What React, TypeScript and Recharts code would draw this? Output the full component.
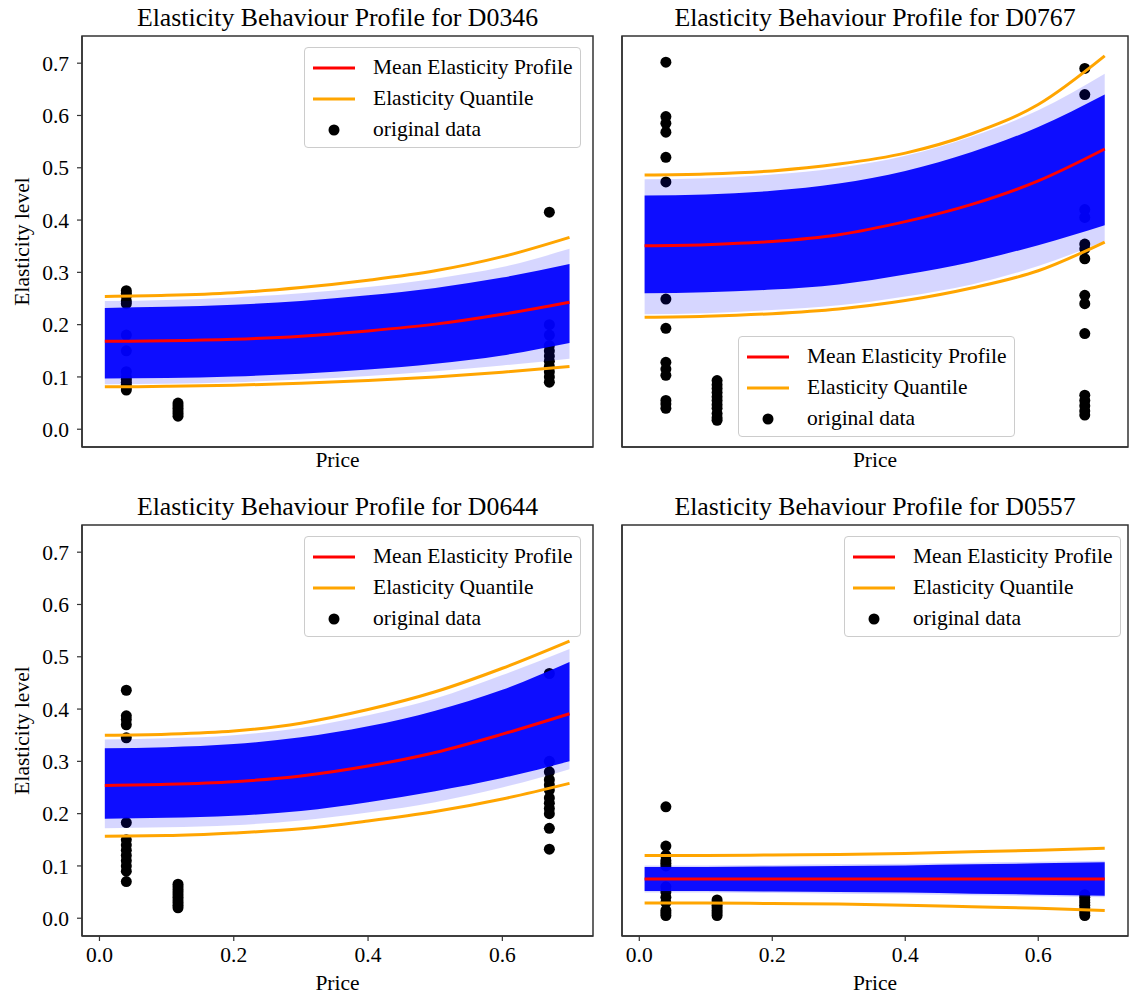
import React from 'react';
import { ComposedChart, Line, Area, Scatter, XAxis, YAxis, Legend, ReferenceArea } from 'recharts';

const SERIF = "'Liberation Serif', 'Times New Roman', serif";

// price grid the fitted profiles are drawn on
const priceGrid = [0.008, 0.1, 0.2, 0.3, 0.4, 0.5, 0.6, 0.7];
// the three observed price levels
const observedPrices = [0.04, 0.117, 0.67];
const xTicks = [0, 0.2, 0.4, 0.6];
const yTicks = [0, 0.1, 0.2, 0.3, 0.4, 0.5, 0.6, 0.7];

// ---- D0346
const meanD0346 = [0.168, 0.169, 0.172, 0.178, 0.188, 0.201, 0.22, 0.243];
const qHiD0346 = [0.254, 0.256, 0.261, 0.271, 0.285, 0.303, 0.33, 0.367];
const qLoD0346 = [0.081, 0.082, 0.084, 0.088, 0.093, 0.1, 0.109, 0.12];
const bandHiD0346 = [0.232, 0.234, 0.238, 0.245, 0.256, 0.27, 0.29, 0.316];
const bandLoD0346 = [0.097, 0.098, 0.101, 0.106, 0.114, 0.125, 0.141, 0.165];
const fringeHiD0346 = [0.245, 0.247, 0.252, 0.26, 0.272, 0.288, 0.31, 0.345];
const fringeLoD0346 = [0.086, 0.087, 0.09, 0.095, 0.102, 0.111, 0.122, 0.135];
const obsD0346 = [
  [0.265, 0.26, 0.255, 0.245, 0.24, 0.18, 0.15, 0.11, 0.1, 0.095, 0.09, 0.085, 0.08, 0.075],
  [0.05, 0.045, 0.04, 0.035, 0.03, 0.025],
  [0.415, 0.2, 0.18, 0.16, 0.15, 0.14, 0.13, 0.12, 0.11, 0.1, 0.09],
];

// ---- D0767
const meanD0767 = [0.351, 0.353, 0.359, 0.372, 0.397, 0.43, 0.475, 0.536];
const qHiD0767 = [0.486, 0.488, 0.494, 0.507, 0.528, 0.565, 0.621, 0.714];
const qLoD0767 = [0.214, 0.216, 0.221, 0.23, 0.246, 0.27, 0.303, 0.358];
const bandHiD0767 = [0.447, 0.449, 0.456, 0.47, 0.494, 0.53, 0.578, 0.64];
const bandLoD0767 = [0.26, 0.262, 0.267, 0.277, 0.296, 0.32, 0.352, 0.39];
const fringeHiD0767 = [0.478, 0.48, 0.487, 0.5, 0.523, 0.56, 0.61, 0.68];
const fringeLoD0767 = [0.22, 0.222, 0.228, 0.237, 0.254, 0.277, 0.312, 0.36];
const obsD0767 = [
  [0.702, 0.598, 0.585, 0.568, 0.52, 0.473, 0.249, 0.193, 0.128, 0.115, 0.103, 0.055, 0.048, 0.04],
  [0.093, 0.085, 0.078, 0.07, 0.062, 0.055, 0.047, 0.04, 0.03, 0.022, 0.017],
  [0.69, 0.64, 0.42, 0.405, 0.354, 0.345, 0.326, 0.256, 0.24, 0.183, 0.065, 0.055, 0.045, 0.035, 0.027],
];

// ---- D0644
const meanD0644 = [0.254, 0.256, 0.261, 0.272, 0.291, 0.317, 0.352, 0.391];
const qHiD0644 = [0.35, 0.352, 0.358, 0.373, 0.399, 0.433, 0.478, 0.53];
const qLoD0644 = [0.157, 0.158, 0.163, 0.171, 0.186, 0.204, 0.228, 0.258];
const bandHiD0644 = [0.325, 0.327, 0.333, 0.346, 0.367, 0.397, 0.437, 0.49];
const bandLoD0644 = [0.19, 0.192, 0.196, 0.205, 0.222, 0.243, 0.268, 0.3];
const fringeHiD0644 = [0.342, 0.344, 0.35, 0.364, 0.388, 0.42, 0.465, 0.515];
const fringeLoD0644 = [0.172, 0.174, 0.178, 0.187, 0.202, 0.222, 0.25, 0.285];
const obsD0644 = [
  [0.436, 0.387, 0.38, 0.37, 0.345, 0.183, 0.15, 0.14, 0.13, 0.12, 0.11, 0.1, 0.09, 0.07],
  [0.065, 0.06, 0.055, 0.05, 0.045, 0.04, 0.035, 0.03, 0.025, 0.02],
  [0.468, 0.3, 0.28, 0.265, 0.255, 0.245, 0.23, 0.22, 0.21, 0.2, 0.172, 0.132],
];

// ---- D0557
const meanD0557 = [0.075, 0.075, 0.075, 0.075, 0.075, 0.075, 0.075, 0.075];
const qHiD0557 = [0.12, 0.12, 0.121, 0.122, 0.124, 0.127, 0.13, 0.134];
const qLoD0557 = [0.029, 0.029, 0.028, 0.027, 0.025, 0.022, 0.019, 0.015];
const bandHiD0557 = [0.098, 0.098, 0.099, 0.1, 0.101, 0.103, 0.105, 0.107];
const bandLoD0557 = [0.052, 0.052, 0.051, 0.05, 0.049, 0.047, 0.045, 0.043];
const fringeHiD0557 = [0.101, 0.101, 0.102, 0.103, 0.104, 0.106, 0.108, 0.11];
const fringeLoD0557 = [0.049, 0.049, 0.048, 0.047, 0.046, 0.044, 0.042, 0.04];
const obsD0557 = [
  [0.213, 0.138, 0.12, 0.11, 0.105, 0.1, 0.06, 0.05, 0.04, 0.03, 0.015, 0.01, 0.005],
  [0.035, 0.03, 0.025, 0.02, 0.015, 0.01, 0.005],
  [0.045, 0.04, 0.035, 0.03, 0.025, 0.02, 0.015, 0.01, 0.005],
];

const legendItems = [
  { label: 'Mean Elasticity Profile', color: '#ff0000', kind: 'line' },
  { label: 'Elasticity Quantile', color: '#ffa500', kind: 'line' },
  { label: 'original data', color: '#000000', kind: 'dot' },
];

const X_DOMAIN = [-0.026, 0.735];
const Y_DOMAIN = [-0.034, 0.752];
const AXIS = '#333333';

const buildRows = (mean, qHi, qLo, bandHi, bandLo, fringeHi, fringeLo) =>
  priceGrid.map((price, i) => ({
    price,
    mean: mean[i],
    qHi: qHi[i],
    qLo: qLo[i],
    band: [bandLo[i], bandHi[i]],
    fringe: [fringeLo[i], fringeHi[i]],
  }));

const buildPoints = (obs) =>
  obs.flatMap((vals, k) => vals.map((value) => ({ price: observedPrices[k], value })));

const LegendBox = () => (
  <div
    style={{
      width: 277,
      height: 101,
      boxSizing: 'border-box',
      border: '1px solid #cccccc',
      borderRadius: 4,
      background: 'rgba(255,255,255,0.8)',
      padding: '4px 0 0 8px',
      fontFamily: SERIF,
      fontSize: 21.5,
      color: '#000',
    }}
  >
    {legendItems.map((it) => (
      <div key={it.label} style={{ height: 31, display: 'flex', alignItems: 'center' }}>
        <svg width={42} height={20} style={{ flex: 'none' }}>
          {it.kind === 'line' ? (
            <line x1={0} y1={10} x2={42} y2={10} stroke={it.color} strokeWidth={3} />
          ) : (
            <circle cx={21} cy={10} r={5.5} fill={it.color} />
          )}
        </svg>
        <span style={{ marginLeft: 18, lineHeight: '21px', whiteSpace: 'nowrap' }}>{it.label}</span>
      </div>
    ))}
  </div>
);

const Dot = (p) => <circle cx={p.cx} cy={p.cy} r={5.5} fill="#000" />;

function Panel({ title, rows, points, left, top, width, height, showYLabels, showXLabels, legendAt }) {
  const xAxisHeight = height - 36 - 411;
  const margin = { top: 36, right: width - 82 - 506 - (width === 600 ? 5 : 0), bottom: 0, left: 0 };
  const axisText = { fill: '#000', fontSize: 21.5, fontFamily: SERIF };

  return (
    <div style={{ position: 'absolute', left, top, width, height }}>
      {/* base layer: axes, frame, title and the observed points */}
      <div style={{ position: 'absolute', left: 0, top: 0 }}>
        <ComposedChart width={width} height={height} margin={margin}>
          <XAxis
            type="number"
            dataKey="price"
            domain={X_DOMAIN}
            ticks={xTicks}
            allowDataOverflow
            height={xAxisHeight}
            tickSize={5}
            tickMargin={6}
            tick={showXLabels ? axisText : false}
            tickFormatter={(v) => v.toFixed(1)}
            axisLine={{ stroke: AXIS, strokeWidth: 1.5 }}
            tickLine={{ stroke: AXIS, strokeWidth: 1.2 }}
            label={(props) => {
              const vb = props.viewBox;
              return (
                <text x={vb.x + vb.width / 2} y={vb.y + (showXLabels ? 54 : 20)} textAnchor="middle" fontSize={21.5} fill="#000">
                  Price
                </text>
              );
            }}
          />
          <YAxis
            type="number"
            domain={Y_DOMAIN}
            ticks={yTicks}
            allowDataOverflow
            width={82}
            tickSize={5}
            tickMargin={8}
            tick={showYLabels ? axisText : false}
            tickFormatter={(v) => v.toFixed(1)}
            axisLine={{ stroke: AXIS, strokeWidth: 1.5 }}
            tickLine={{ stroke: AXIS, strokeWidth: 1.2 }}
            label={(props) => {
              if (!showYLabels) return null;
              const vb = props.viewBox;
              const cx = 22;
              const cy = vb.y + vb.height / 2;
              return (
                <text x={cx} y={cy} transform={`rotate(-90 ${cx} ${cy})`} textAnchor="middle" dominantBaseline="central" fontSize={21.5} fill="#000">
                  Elasticity level
                </text>
              );
            }}
          />
          <ReferenceArea
            x1={X_DOMAIN[0]}
            x2={X_DOMAIN[1]}
            y1={Y_DOMAIN[0]}
            y2={Y_DOMAIN[1]}
            fill="none"
            fillOpacity={0}
            stroke={AXIS}
            strokeWidth={1.5}
            ifOverflow="visible"
            label={(props) => {
              const vb = props.viewBox;
              return (
                <text x={vb.x + vb.width / 2} y={vb.y - 10} textAnchor="middle" fontSize={25.8} fill="#000">
                  {title}
                </text>
              );
            }}
          />
          <Scatter data={points} dataKey="value" shape={Dot} isAnimationActive={false} />
        </ComposedChart>
      </div>

      {/* top layer: the sampled profile band, mean and quantile curves, legend */}
      <div style={{ position: 'absolute', left: 0, top: 0 }}>
        <ComposedChart width={width} height={height} margin={margin}>
          <XAxis type="number" dataKey="price" domain={X_DOMAIN} allowDataOverflow height={xAxisHeight} tick={false} tickLine={false} axisLine={false} />
          <YAxis type="number" domain={Y_DOMAIN} allowDataOverflow width={82} tick={false} tickLine={false} axisLine={false} />
          <Area data={rows} dataKey="fringe" type="monotone" stroke="none" fill="#0000ff" fillOpacity={0.16} isAnimationActive={false} />
          <Area data={rows} dataKey="band" type="monotone" stroke="none" fill="#0000ff" fillOpacity={0.94} isAnimationActive={false} />
          <Line data={rows} dataKey="qHi" type="monotone" stroke="#ffa500" strokeWidth={3} dot={false} isAnimationActive={false} />
          <Line data={rows} dataKey="qLo" type="monotone" stroke="#ffa500" strokeWidth={3} dot={false} isAnimationActive={false} />
          <Line data={rows} dataKey="mean" type="monotone" stroke="#ff0000" strokeWidth={3} dot={false} isAnimationActive={false} />
          <Legend
            layout="vertical"
            align="center"
            verticalAlign="middle"
            wrapperStyle={{ left: legendAt[0], top: legendAt[1], width: 'auto' }}
            content={<LegendBox />}
          />
        </ComposedChart>
      </div>
    </div>
  );
}

export default function App() {
  return (
    <div style={{ position: 'absolute', left: 0, top: 0, width: 1130, height: 996, background: '#fff', fontFamily: SERIF }}>
      <style>{`.recharts-wrapper text, .recharts-wrapper tspan { font-family: 'Liberation Serif', 'Times New Roman', serif; }`}</style>
      <Panel
        title="Elasticity Behaviour Profile for D0346"
        rows={buildRows(meanD0346, qHiD0346, qLoD0346, bandHiD0346, bandLoD0346, fringeHiD0346, fringeLoD0346)}
        points={buildPoints(obsD0346)}
        left={0}
        top={0}
        width={600}
        height={480}
        showYLabels
        showXLabels={false}
        legendAt={[304, 47]}
      />
      <Panel
        title="Elasticity Behaviour Profile for D0767"
        rows={buildRows(meanD0767, qHiD0767, qLoD0767, bandHiD0767, bandLoD0767, fringeHiD0767, fringeLoD0767)}
        points={buildPoints(obsD0767)}
        left={540}
        top={0}
        width={590}
        height={480}
        showYLabels={false}
        showXLabels={false}
        legendAt={[198, 336]}
      />
      <Panel
        title="Elasticity Behaviour Profile for D0644"
        rows={buildRows(meanD0644, qHiD0644, qLoD0644, bandHiD0644, bandLoD0644, fringeHiD0644, fringeLoD0644)}
        points={buildPoints(obsD0644)}
        left={0}
        top={489}
        width={600}
        height={507}
        showYLabels
        showXLabels
        legendAt={[304, 47]}
      />
      <Panel
        title="Elasticity Behaviour Profile for D0557"
        rows={buildRows(meanD0557, qHiD0557, qLoD0557, bandHiD0557, bandLoD0557, fringeHiD0557, fringeLoD0557)}
        points={buildPoints(obsD0557)}
        left={540}
        top={489}
        width={590}
        height={507}
        showYLabels={false}
        showXLabels
        legendAt={[304, 47]}
      />
    </div>
  );
}
